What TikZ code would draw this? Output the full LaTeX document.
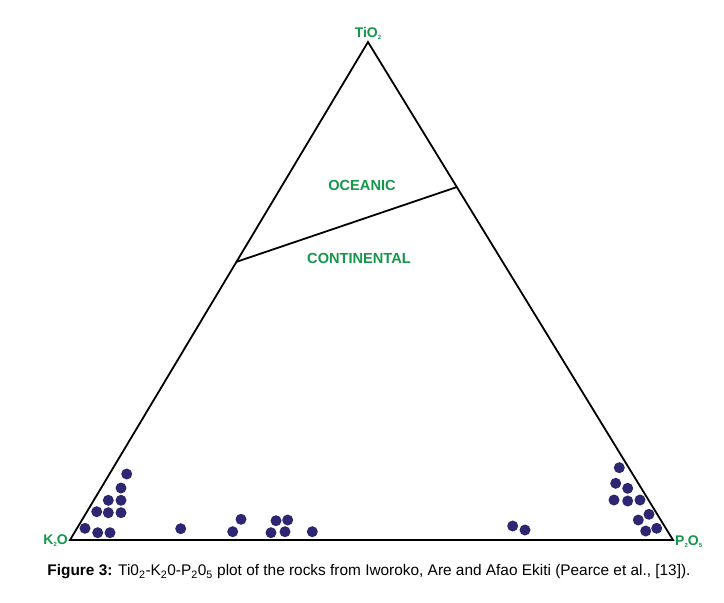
\documentclass[tikz,border=0pt]{standalone}
\usepackage{fontspec}
\setmainfont{Liberation Sans}
\usetikzlibrary{positioning}
\definecolor{labelgreen}{RGB}{20,150,75}
\definecolor{dotblue}{RGB}{45,38,112}
\newcommand{\lowsub}[1]{\raisebox{-0.15em}{\fontsize{6}{7}\selectfont #1}}
\tikzset{
	apexlabel/.style={text=labelgreen,font=\bfseries\fontsize{14}{16}\selectfont,inner sep=1pt},
	fieldlabel/.style={text=labelgreen,font=\bfseries\fontsize{14.6}{17}\selectfont},
	sample/.style={circle,fill=dotblue,inner sep=0pt,minimum size=11pt},
}
\begin{document}
\begin{tikzpicture}[x=1pt,y=-1pt]
	\useasboundingbox (0,0) rectangle (724,603);
	% Corners
	\coordinate (ti) at (368,42);
	\coordinate (k) at (70,540);
	\coordinate (p) at (673,540);
	\draw[line width=1.8pt,line join=miter] (ti) -- (k) -- (p) -- cycle;
	
	% Corner labels
	\node[apexlabel,above=1pt of ti] (tilab) {TiO\lowsub{2}};
	\node[apexlabel,left=1pt of k,anchor=south east,yshift=-8pt] (klab) {K\lowsub{2}O};
	\node[apexlabel,right=1pt of p,anchor=south west,yshift=-9pt] (plab) {P\lowsub{2}O\lowsub{5}};
	
	% Field boundary
	\coordinate (bl) at (236,262);
	\coordinate (br) at (457,187);
	\draw[line width=1.8pt] (bl) -- (br);
	\node[fieldlabel] (ocean) at (362,185) {OCEANIC};
	\node[fieldlabel] (cont) at (359,258) {CONTINENTAL};
	
	% Samples
	\foreach \x/\y [count=\i] in {126.7/474, 121/488, 108.3/500.3, 121/500.3,
		96.7/511.7, 108.3/512.7, 121/512.7, 85/528.3, 97.7/532.7, 110/532.7,
		180.7/528.7, 241/519.3, 232.7/531.7, 276/520.7, 287.7/520, 271/532.7,
		285/531.7, 312.3/531.7, 512.7/526, 525/530, 619.3/467.7, 615.7/483.3,
		627.7/488.3, 614/500, 627.7/501, 640/500, 649/514.3, 638.3/520,
		645.7/531, 656.7/528.3}{
		\node[sample] (s\i) at (\x,\y) {};
	}
	
	% Caption
	\node[font=\fontsize{15.4}{18}\selectfont] (caption) at (369,572)
		{\textbf{Figure 3:} Ti0\textsubscript{2}-K\textsubscript{2}0-P\textsubscript{2}0\textsubscript{5} plot of the rocks from Iworoko, Are and Afao Ekiti (Pearce et al., [13]).};
\end{tikzpicture}
\end{document}
